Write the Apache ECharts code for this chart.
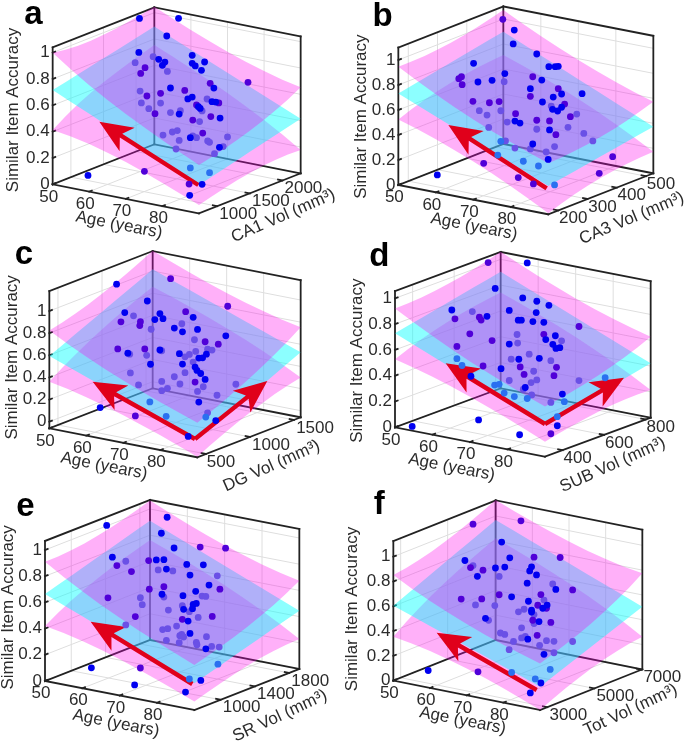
<!DOCTYPE html>
<html><head><meta charset="utf-8">
<style>html,body{margin:0;padding:0;background:#fff}#c{width:685px;height:742px}</style>
<script src="https://cdn.jsdelivr.net/npm/echarts@6/dist/echarts.min.js"></script>
</head><body><div id="c"></div>
<script>
// rows: [age, volume, accuracy, planes in front of the dot]
const pointsA=[[64,1266,1.231,0],[70.3,1512,1.218,0],[68.4,1438,1.088,0],[63.9,1262,.973,0],[63.3,1239,.896,2],[66.2,1352,.936,2],[67.1,1387,.914,0],[68.1,1426,.891,0],[67.7,1410,.867,0],[64.9,1301,.855,1],[64.2,1274,.813,1],[68.5,1442,.819,2],[72.5,1598,.933,0],[74.5,1676,.878,0],[72.5,1598,.872,0],[73,1617,.851,0],[74,1656,.816,0],[75.4,1711,.714,1],[81.5,1949,.709,1],[76,1734,.677,0],[69,1461,.692,0],[71.3,1551,.669,1],[64.1,1270,.679,2],[67.4,1399,.655,1],[65.2,1313,.639,1],[64.3,1278,.588,2],[67.4,1399,.581,2],[65.5,1325,.542,2],[66.5,1364,.502,1],[69,1461,.505,2],[70.6,1523,.516,2],[70.4,1516,.491,0],[72.5,1598,.616,0],[71.8,1570,.603,0],[74.9,1691,.596,2],[75.7,1722,.574,0],[76.3,1746,.57,0],[76.8,1765,.562,1],[73.2,1625,.554,1],[73.5,1637,.541,0],[73.8,1648,.527,0],[74.1,1660,.507,2],[75.5,1715,.461,1],[77,1773,.447,0],[72.6,1601,.441,1],[73.7,1644,.427,2],[67.8,1414,.337,2],[69.3,1473,.357,2],[70.1,1504,.366,2],[72.2,1586,.308,0],[72.6,1601,.32,2],[74.2,1664,.339,1],[70.4,1516,.291,2],[73.2,1625,.306,2],[75,1695,.277,2],[75.3,1707,.266,2],[78.2,1820,.301,2],[77.5,1793,.229,2],[76.9,1769,.225,0],[69.9,1496,.227,2],[76.1,1738,.178,2],[72.2,1586,.078,3],[75.3,1707,.036,3],[74.1,1660,-.05,0],[72,1578,-.044,1],[72.1,1582,-.13,0],[64.8,1297,.068,1],[55.7,942,.056,0]];
const pointsB=[[66.4,313,1.287,1],[68.2,329,1.197,0],[68,328,1.086,0],[71.7,361,.997,0],[61.8,272,.946,0],[73.6,378,.891,0],[74.6,387,.889,0],[75.1,391,.891,0],[66.7,316,.852,0],[59.9,255,.843,1],[59.5,251,.829,1],[60,256,.779,1],[62.5,278,.795,0],[64.7,298,.803,0],[66.6,315,.788,2],[71.1,355,.817,1],[72.5,368,.787,0],[70.7,352,.722,0],[70.7,352,.661,1],[75.1,391,.712,1],[75.6,396,.668,0],[78.8,425,.663,0],[74.3,384,.647,0],[72.6,369,.611,0],[61.7,271,.642,1],[64.3,294,.625,1],[65.8,308,.63,1],[74,381,.576,2],[76.1,400,.587,1],[75.6,396,.562,0],[74.2,383,.549,0],[75,390,.534,0],[62.7,280,.565,2],[66.1,310,.557,2],[63.9,291,.527,2],[68.4,331,.528,1],[77,408,.484,1],[78,417,.502,2],[68.3,330,.469,0],[69.1,337,.451,0],[67.1,319,.464,2],[71.7,361,.467,1],[73.7,379,.457,1],[64.2,293,.428,2],[76.6,405,.399,2],[71.7,361,.395,2],[73.7,379,.385,0],[74.7,388,.345,1],[79.1,427,.345,2],[80.5,440,.281,2],[66.1,310,.312,3],[66.8,317,.313,2],[71.1,355,.279,0],[68.3,330,.253,2],[70.7,352,.24,2],[74.5,386,.25,2],[73.2,374,.21,2],[73.5,377,.15,0],[65.6,306,.203,3],[69.6,342,.144,3],[72,363,.101,3],[63.4,286,.142,1],[83.6,468,.148,1],[81.5,449,.02,1],[68.8,335,.015,1],[71.2,356,-.041,1],[74.5,386,-.057,3],[56.1,221,.066,0]];
const pointsC=[[60.7,716,1.216,0],[69.3,968,1.244,1],[78.4,1234,.973,1],[65.6,859,1.052,0],[71.7,1038,.94,1],[62,754,.956,0],[63.4,795,.923,2],[67.6,918,.933,0],[68.1,932,.886,0],[66.8,894,.881,0],[72.9,1073,.886,0],[61.4,736,.874,1],[64.5,827,.868,1],[64.4,824,.833,1],[71.1,1020,.833,2],[69.9,985,.797,0],[71.2,1023,.76,0],[73.6,1093,.775,0],[66.2,877,.795,2],[78.1,1225,.706,0],[73.1,1079,.683,2],[74.8,1129,.661,1],[76.9,1190,.634,1],[60.9,721,.631,1],[65.2,847,.62,1],[67.6,918,.604,0],[67.9,926,.597,2],[75.2,1140,.593,2],[75.9,1161,.583,2],[73.3,1085,.577,2],[62.5,768,.588,0],[62.8,777,.578,2],[65.5,856,.561,2],[70.7,1009,.563,0],[72.3,1055,.553,2],[71.6,1035,.533,2],[75,1135,.548,0],[74.4,1117,.517,0],[73.8,1099,.516,0],[66.1,874,.479,0],[71.2,1023,.468,0],[72.9,1073,.482,2],[73.2,1082,.436,0],[73.5,1091,.405,0],[74.1,1108,.376,0],[71.6,1035,.389,2],[62.9,780,.409,2],[69.9,985,.357,2],[74.8,1129,.32,0],[73.2,1082,.3,1],[67.9,926,.32,2],[64.2,818,.297,2],[70.8,1011,.289,2],[74.5,1120,.255,2],[79.7,1272,.265,2],[68.8,953,.255,2],[67.9,926,.236,2],[73.6,1093,.215,2],[76.7,1184,.173,2],[73.8,1099,.118,0],[66,871,.139,3],[58.1,639,.108,0],[63.7,803,.018,1],[68.6,947,.002,3],[75.2,1140,.018,2],[74.9,1132,-.02,3],[76.5,1178,-.055,0],[72.1,1050,-.188,0]];
const pointsD=[[64.6,500,1.25,1],[70.7,578,1.236,0],[65.7,514,1.048,0],[70,569,.966,0],[72.2,597,.936,0],[74.1,621,.901,0],[58.9,428,.893,0],[62.1,469,.875,2],[67.9,542,.873,0],[72.1,596,.848,0],[59.4,434,.824,1],[63.2,483,.829,1],[64.4,498,.834,0],[63.5,486,.807,1],[69.3,560,.795,0],[69.8,566,.794,0],[71.6,589,.78,0],[73.3,611,.771,0],[78.8,681,.728,1],[61.7,464,.703,1],[69.1,558,.684,2],[73.3,611,.678,1],[75.1,634,.663,0],[73.6,615,.636,0],[65.2,508,.644,1],[76.1,646,.622,2],[69.2,559,.617,2],[67.9,542,.612,0],[74.7,629,.597,0],[59.7,438,.609,1],[75.2,635,.565,0],[75.8,643,.569,0],[71,582,.528,2],[59.7,438,.514,3],[68.2,546,.495,2],[69.4,561,.492,0],[72.6,602,.493,0],[74.4,625,.471,2],[60.5,448,.46,3],[63.8,490,.45,1],[66.6,526,.424,0],[69.6,564,.432,1],[75.3,636,.418,1],[71.7,591,.394,2],[70.2,572,.372,1],[61.9,466,.374,0],[74.9,631,.354,1],[78.8,681,.309,2],[82.9,733,.323,3],[67.9,542,.33,2],[71.3,586,.307,2],[72.2,597,.326,2],[65.6,513,.299,3],[66.3,522,.303,3],[70.4,574,.271,0],[70.1,570,.258,2],[67.1,532,.234,3],[68.7,552,.204,3],[71.4,587,.211,2],[70.7,578,.185,3],[76.2,648,.209,0],[74.4,625,.148,2],[76.5,652,.149,3],[75.4,638,.035,3],[63.1,481,.033,0],[75.4,638,-.035,0],[69.5,563,-.094,0],[74.4,625,-.095,1],[52.7,349,.002,0]];
const pointsE=[[59.7,991,1.165,0],[69.2,1282,1.206,0],[68.3,1254,1.086,0],[70.3,1315,.969,0],[74.4,1441,.966,1],[78.4,1563,.949,1],[60.6,1018,.921,0],[66.3,1193,.882,1],[67.5,1230,.884,0],[68.7,1266,.883,0],[62.7,1083,.885,2],[61.3,1040,.855,1],[72.3,1376,.839,0],[74.9,1456,.83,0],[63.6,1110,.804,1],[67.8,1239,.807,2],[69.1,1278,.811,0],[70.1,1309,.794,2],[72.8,1392,.756,0],[77.1,1523,.741,2],[75.8,1483,.673,0],[68.7,1266,.677,1],[66.4,1196,.663,1],[77.5,1536,.638,1],[73.7,1419,.63,0],[68.4,1257,.62,0],[68.7,1266,.598,2],[71.7,1358,.602,0],[74.7,1450,.592,2],[75.3,1468,.588,2],[59.9,997,.612,1],[65,1153,.602,2],[65.3,1162,.548,2],[73.8,1422,.538,0],[73.3,1407,.531,0],[71.6,1355,.525,2],[71.8,1361,.497,0],[73.2,1404,.499,0],[69.4,1288,.497,2],[72.7,1389,.477,2],[64.2,1129,.459,1],[76.3,1499,.433,1],[74.1,1431,.43,2],[71.6,1355,.421,1],[72.5,1383,.406,0],[62.7,1083,.399,2],[70.7,1327,.372,2],[68.5,1260,.35,2],[69.3,1285,.355,2],[72.8,1392,.311,0],[71.5,1352,.307,2],[71.2,1343,.297,2],[71.8,1361,.286,2],[75.4,1471,.28,2],[69.1,1278,.267,2],[71.1,1340,.244,2],[73.8,1422,.24,2],[73.9,1425,.222,2],[76.2,1496,.204,2],[77.4,1532,.196,2],[75.3,1468,.188,0],[77.2,1526,.066,3],[57.3,917,.084,0],[65,1153,.065,1],[72.7,1389,-.037,3],[74.5,1444,-.052,0],[64.1,1125,-.062,0],[72.1,1370,-.135,0]];
const pointsF=[[62.8,4082,1.233,1],[70.5,4920,1.242,1],[67.4,4583,1.078,0],[61.5,3940,.943,0],[68.7,4725,.948,0],[72.6,5149,.944,1],[76.8,5606,.932,1],[62.8,4082,.899,2],[62.4,4038,.884,1],[64.4,4256,.858,1],[66.4,4474,.871,0],[67.9,4637,.875,0],[72.2,5106,.867,0],[71.9,5073,.835,0],[63.5,4158,.811,0],[67,4539,.802,2],[73,5193,.8,0],[71.5,5029,.737,0],[75.6,5476,.721,2],[76.1,5530,.676,0],[78.8,5824,.666,1],[73.7,5269,.64,1],[67,4539,.654,1],[69,4757,.633,0],[60.9,3875,.633,1],[64.2,4234,.627,1],[74.2,5323,.595,2],[71.7,5051,.591,0],[63.2,4125,.581,2],[66.3,4463,.568,2],[73.2,5214,.555,1],[74.7,5378,.553,0],[74,5302,.529,0],[74.6,5367,.527,1],[71,4975,.528,2],[70.1,4877,.509,2],[72.2,5106,.517,0],[72.2,5106,.503,0],[72.6,5149,.481,2],[64.8,4300,.469,0],[65.3,4354,.452,2],[72.4,5127,.436,1],[73.4,5236,.423,0],[75.3,5443,.412,1],[72.6,5149,.409,2],[70.6,4931,.379,2],[67.2,4561,.345,2],[67.9,4637,.332,2],[73.1,5204,.313,1],[70.6,4931,.298,2],[71.2,4997,.308,2],[71.6,5040,.285,0],[74.6,5367,.266,2],[75.8,5498,.258,2],[78.8,5824,.25,2],[69.3,4790,.272,2],[73.5,5247,.231,2],[68.6,4714,.207,2],[74.2,5323,.157,0],[75.8,5498,.166,2],[55.6,3298,.069,0],[63.6,4169,.04,1],[69,4757,.023,3],[75.2,5432,.033,3],[72.8,5171,-.038,3],[73.7,5269,-.073,0],[72,5084,-.149,0]];
// surface corner values: [age50/volMin, age90/volMin, age50/volMax, age90/volMax]
const upperA=[1,.367,1.045,.653],meanA=[.716,.215,.894,.415],lowerA=[.413,.063,.754,.177];
const upperB=[.947,.408,1.072,.573],meanB=[.733,.227,.899,.373],lowerB=[.525,.008,.712,.173];
const upperC=[.823,.253,1.184,.753],meanC=[.594,.097,1.015,.527],lowerC=[.362,-.054,.859,.301];
const upperD=[.922,.388,1.059,.628],meanD=[.729,.245,.904,.421],lowerD=[.527,.116,.742,.214];
const upperE=[.911,.344,1.064,.674],meanE=[.664,.204,.911,.445],lowerE=[.42,.064,.763,.229];
const upperF=[.852,.376,1.129,.774],meanF=[.605,.188,.968,.505],lowerF=[.355,0,.82,.263];
const ageTicks=[50,60,70,80];
const accTicks=[0,.2,.4,.6,.8,1];
const volTicksA=[1000,1500,2000],volTicksB=[200,300,400,500],volTicksC=[500,1000,1500],volTicksD=[400,600,800],volTicksE=[1000,1400,1800],volTicksF=[3000,5000,7000];
const volTitles=['CA1 Vol (mm³)','CA3 Vol (mm³)','DG Vol (mm³)','SUB Vol (mm³)','SR Vol (mm³)','Tot Vol (mm³)'];
const letters=['a','b','c','d','e','f'];

// layout in 3x crop units relative to each panel's offset
const panels=[
 {o:[0,0],A:[158,553],B:[597,640],C:[463,433],H:395,zmin:0,zmax:1.04,vol:[720,2280],ticks:volTicksA,pts:pointsA,u:upperA,m:meanA,l:lowerA,let:[100,45],yt:[40,330],at:[357,675],vt:[850,648],ang:23.5,arrows:[[[595,555],[298,365]]]},
 {o:[340,0],A:[175,555],B:[625,643],C:[490,432],H:375,zmin:0,zmax:1.1,vol:[166,525],ticks:volTicksB,pts:pointsB,u:upperB,m:meanB,l:lowerB,let:[128,50],yt:[63,350],at:[402,680],vt:[875,655],ang:22.7,arrows:[[[620,565],[325,375]]]},
 {o:[0,240],A:[148,565],B:[592,652],C:[458,445],H:332,zmin:-.06,zmax:1.18,vol:[402,1575],ticks:volTicksC,pts:pointsC,u:upperC,m:meanC,l:lowerC,let:[72,45],yt:[38,352],at:[312,678],vt:[815,678],ang:24,arrows:[[[585,597],[278,425]],[[585,597],[802,423]]]},
 {o:[340,240],A:[165,562],B:[615,650],C:[482,445],H:387,zmin:0,zmax:1.057,vol:[315,824],ticks:volTicksD,pts:pointsD,u:upperD,m:meanD,l:lowerD,let:[118,50],yt:[52,362],at:[335,682],vt:[818,675],ang:24,arrows:[[[615,552],[317,370]],[[615,552],[852,413]]]},
 {o:[0,490],A:[135,573],B:[583,660],C:[450,450],H:393,zmin:0,zmax:1.069,vol:[694,1918],ticks:volTicksE,pts:pointsE,u:upperE,m:meanE,l:lowerE,let:[76,52],yt:[25,352],at:[348,700],vt:[840,678],ang:25,arrows:[[[577,582],[272,395]]]},
 {o:[340,490],A:[160,572],B:[600,660],C:[467,450],H:372,zmin:0,zmax:1.126,vol:[2688,7043],ticks:volTicksF,pts:pointsF,u:upperF,m:meanF,l:lowerF,let:[118,45],yt:[38,357],at:[368,692],vt:[872,660],ang:25,arrows:[[[590,600],[290,428]]]}
];
const toPx=(p,c)=>[p.o[0]+c[0]/3,p.o[1]+c[1]/3];
function project(p,age,vol,acc){
  const u=(age-50)/40,v=(vol-p.vol[0])/(p.vol[1]-p.vol[0]);
  const x=p.A[0]+u*(p.B[0]-p.A[0])+v*(p.C[0]-p.A[0]);
  const y=p.A[1]+u*(p.B[1]-p.A[1])+v*(p.C[1]-p.A[1])-p.H*(acc-p.zmin);
  return toPx(p,[x,y]);
}
const gridLines=[],boxLines=[],polys=[],arrowPolys=[],texts=[];
const layers=[[],[],[],[]];
const DARK='#222222',FONT='Liberation Sans, Arial, sans-serif';
panels.forEach((p,i)=>{
  const [v0,v1]=p.vol,z0=p.zmin,z1=p.zmax;
  const P=(a,v,z)=>project(p,a,v,z);
  ageTicks.forEach(a=>{
    gridLines.push([P(a,v0,z0),P(a,v1,z0)],[P(a,v1,z0),P(a,v1,z1)]);
    boxLines.push([P(a,v0,z0),P(a,v0+(v1-v0)*.025,z0)]);
    const q=P(a,v0,z0);
    texts.push({t:String(a),x:q[0]-4,y:q[1]+12.5});
  });
  p.ticks.forEach(v=>{
    gridLines.push([P(50,v,z0),P(90,v,z0)],[P(50,v,z0),P(50,v,z1)]);
    boxLines.push([P(90,v,z0),P(88.8,v,z0)]);
    const q=P(90,v,z0);
    const w=String(v).length>3?21:15;
    texts.push({t:String(v),x:q[0]+w,y:q[1]+8});
  });
  accTicks.forEach(z=>{
    gridLines.push([P(50,v0,z),P(50,v1,z)],[P(50,v1,z),P(90,v1,z)]);
    boxLines.push([P(50,v0,z),P(50,v0+(v1-v0)*.025,z)]);
    const q=P(50,v0,z);
    texts.push({t:String(z),x:q[0]-3,y:q[1],align:'right'});
  });
  const c=(a,v,z)=>P(a,v,z);
  [[c(50,v0,z0),c(90,v0,z0)],[c(90,v0,z0),c(90,v1,z0)],[c(50,v0,z0),c(50,v1,z0)],[c(50,v1,z0),c(90,v1,z0)],
   [c(50,v0,z0),c(50,v0,z1)],[c(50,v1,z0),c(50,v1,z1)],[c(90,v1,z0),c(90,v1,z1)],
   [c(50,v0,z1),c(50,v1,z1)],[c(50,v1,z1),c(90,v1,z1)]].forEach(s=>boxLines.push(s));
  const boundary=(vals)=>{
    const corners=[[0,50,v0],[1,90,v0],[3,90,v1],[2,50,v1]];
    const pts=[];
    for(let e=0;e<4;e++){
      const a=corners[e],b=corners[(e+1)%4];
      for(let k=0;k<8;k++){
        const s=k/8;
        const base=vals[a[0]]*(1-s)+vals[b[0]]*s;
        const mid=p.m[a[0]]*(1-s)+p.m[b[0]]*s;
        const val=base+(mid-base)*.18*4*s*(1-s);
        pts.push(P(a[1]+(b[1]-a[1])*s,a[2]+(b[2]-a[2])*s,val));
      }
    }
    return pts;
  };
  polys.push({pts:boundary(p.l),fill:'rgba(255,0,235,0.31)'});
  polys.push({pts:boundary(p.m),fill:'rgba(0,255,255,0.45)'});
  polys.push({pts:boundary(p.u),fill:'rgba(255,0,235,0.31)'});
  p.pts.forEach(r=>layers[r[3]].push(project(p,r[0],r[1],r[2])));
  p.arrows.forEach(a=>{
    const t=toPx(p,a[0]),h=toPx(p,a[1]);
    const dx=h[0]-t[0],dy=h[1]-t[1],L=Math.hypot(dx,dy),ux=dx/L,uy=dy/L,nx=-uy,ny=ux;
    const hl=33,hw=14,sw=2.2,nl=hl*.78;
    const at=(d,n)=>[h[0]-ux*d+nx*n,h[1]-uy*d+ny*n];
    arrowPolys.push([[t[0]+nx*sw,t[1]+ny*sw],at(nl,sw),at(hl,hw),h,at(hl,-hw),at(nl,-sw),[t[0]-nx*sw,t[1]-ny*sw]]);
  });
  const a0=toPx(p,p.let);texts.push({t:letters[i],x:a0[0],y:a0[1],font:'bold 33px '+FONT,fill:'#000'});
  const y0=toPx(p,p.yt);texts.push({t:'Similar Item Accuracy',x:y0[0],y:y0[1],rot:90});
  const a1=toPx(p,p.at);texts.push({t:'Age (years)',x:a1[0],y:a1[1],rot:-11});
  const v2=toPx(p,p.vt);texts.push({t:volTitles[i],x:v2[0],y:v2[1],rot:p.ang});
});
const idx=a=>a.map((_,i)=>[i]);
const lineSeries=(arr,color,w)=>({type:'custom',coordinateSystem:'cartesian2d',silent:true,clip:false,data:idx(arr),encode:{x:0,y:0},
  renderItem:(prm,api)=>{const s=arr[api.value(0)],a=api.coord(s[0]),b=api.coord(s[1]);
    return {type:'line',shape:{x1:a[0],y1:a[1],x2:b[0],y2:b[1]},style:{stroke:color,lineWidth:w,lineCap:'square'}};}});
const polySeries=(arr,get,getFill)=>({type:'custom',coordinateSystem:'cartesian2d',silent:true,clip:false,data:idx(arr),encode:{x:0,y:0},
  renderItem:(prm,api)=>{const o=arr[api.value(0)];
    return {type:'polygon',shape:{points:get(o).map(q=>api.coord(q))},style:{fill:getFill(o),stroke:null}};}});
const dotColors=['#0000f0','#5000d8','#6a50e6','#2a70f0'];
const dotSeries=[2,3,1,0].map(k=>({type:'scatter',silent:true,clip:false,symbolSize:6.8,data:layers[k],itemStyle:{color:dotColors[k],opacity:1}}));
const textSeries={type:'custom',coordinateSystem:'cartesian2d',silent:true,clip:false,data:idx(texts),encode:{x:0,y:0},
  renderItem:(prm,api)=>{const o=texts[api.value(0)],q=api.coord([o.x,o.y]);
    return {type:'text',x:q[0],y:q[1],rotation:(o.rot||0)*Math.PI/180,
      style:{text:o.t,font:o.font||('17px '+FONT),fill:o.fill||'#2b2b2b',align:o.align||'center',verticalAlign:'middle'}};}};
const chart=echarts.init(document.getElementById('c'),null,{renderer:'canvas'});
chart.setOption({animation:false,
  grid:{left:0,right:0,top:0,bottom:0},
  xAxis:{type:'value',min:0,max:685,show:false},
  yAxis:{type:'value',min:0,max:742,inverse:true,show:false},
  series:[lineSeries(gridLines,'#dedede',1),lineSeries(boxLines,DARK,1.8),
    polySeries(polys,o=>o.pts,o=>o.fill),...dotSeries,
    polySeries(arrowPolys,o=>o,()=>'#e0001b'),textSeries]});
</script></body></html>
